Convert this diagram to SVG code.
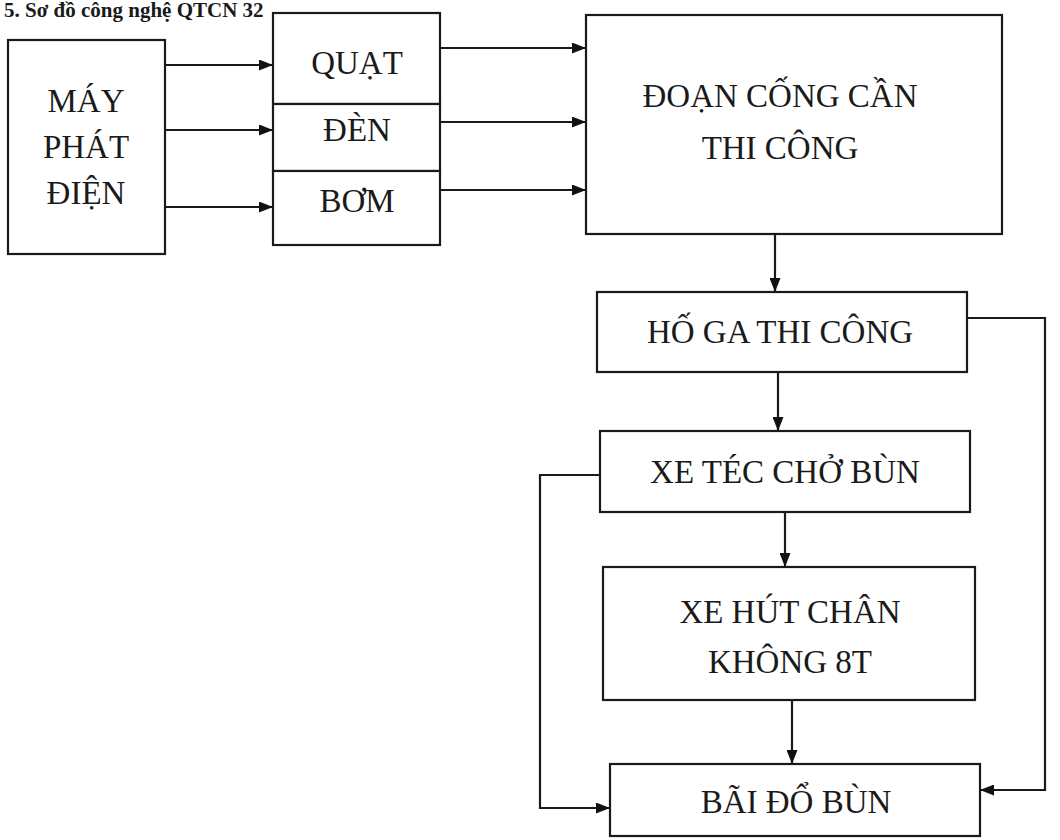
<svg xmlns="http://www.w3.org/2000/svg" width="1060" height="840" viewBox="0 0 1060 840">
<defs>
<marker id="ah" viewBox="0 0 14 11" refX="14" refY="5.5" markerWidth="14" markerHeight="11" markerUnits="userSpaceOnUse" orient="auto">
<path d="M0,0 L14,5.5 L0,11 Z" fill="#111"/>
</marker>
</defs>
<style>
.box{fill:#fff;stroke:#1a1a1a;stroke-width:2.2}
.t{font-family:"Liberation Serif","Times New Roman",serif;font-size:33px;fill:#1a1a1a;text-anchor:middle}
.title{font-family:"Liberation Serif","Times New Roman",serif;font-size:21px;font-weight:bold;fill:#1a1a1a}
.c{fill:none;stroke:#1a1a1a;stroke-width:2.2}
</style>
<rect width="1060" height="840" fill="#fff"/>
<text class="title" x="4" y="17">5. Sơ đồ công nghệ QTCN 32</text>
<g id="may-phat-dien">
<rect class="box" x="8" y="40" width="157" height="214"/>
<text class="t" x="86" y="112">MÁY</text>
<text class="t" x="86" y="158">PHÁT</text>
<text class="t" x="86" y="204">ĐIỆN</text>
</g>
<g id="quat">
<rect class="box" x="273" y="13" width="167" height="91"/>
<text class="t" x="357" y="74">QUẠT</text>
</g>
<g id="den">
<rect class="box" x="273" y="104" width="167" height="67"/>
<text class="t" x="357" y="141">ĐÈN</text>
</g>
<g id="bom">
<rect class="box" x="273" y="171" width="167" height="74"/>
<text class="t" x="357" y="212">BƠM</text>
</g>
<g id="doan-cong">
<rect class="box" x="586" y="15" width="416" height="219"/>
<text class="t" x="780" y="107">ĐOẠN CỐNG CẦN</text>
<text class="t" x="780" y="159">THI CÔNG</text>
</g>
<g id="ho-ga">
<rect class="box" x="597" y="292" width="370" height="80"/>
<text class="t" x="780" y="343">HỐ GA THI CÔNG</text>
</g>
<g id="xe-tec">
<rect class="box" x="600" y="431" width="370" height="81"/>
<text class="t" x="785" y="483">XE TÉC CHỞ BÙN</text>
</g>
<g id="xe-hut">
<rect class="box" x="603" y="567" width="372" height="133"/>
<text class="t" x="790" y="623">XE HÚT CHÂN</text>
<text class="t" x="790" y="673">KHÔNG 8T</text>
</g>
<g id="bai-do-bun">
<rect class="box" x="610" y="764" width="370" height="72"/>
<text class="t" x="796" y="813">BÃI ĐỔ BÙN</text>
</g>
<g id="connectors">
<line class="c" x1="165" y1="65" x2="273" y2="65" marker-end="url(#ah)"/>
<line class="c" x1="165" y1="130" x2="273" y2="130" marker-end="url(#ah)"/>
<line class="c" x1="165" y1="207" x2="273" y2="207" marker-end="url(#ah)"/>
<line class="c" x1="440" y1="48" x2="586" y2="48" marker-end="url(#ah)"/>
<line class="c" x1="440" y1="122" x2="586" y2="122" marker-end="url(#ah)"/>
<line class="c" x1="440" y1="190" x2="586" y2="190" marker-end="url(#ah)"/>
<line class="c" x1="775" y1="234" x2="775" y2="292" marker-end="url(#ah)"/>
<line class="c" x1="778" y1="372" x2="778" y2="431" marker-end="url(#ah)"/>
<line class="c" x1="785" y1="512" x2="785" y2="567" marker-end="url(#ah)"/>
<line class="c" x1="792" y1="700" x2="792" y2="764" marker-end="url(#ah)"/>
<polyline class="c" points="967,318 1045,318 1045,790 980,790" marker-end="url(#ah)"/>
<polyline class="c" points="600,475 540,475 540,808 610,808" marker-end="url(#ah)"/>
</g>
</svg>
